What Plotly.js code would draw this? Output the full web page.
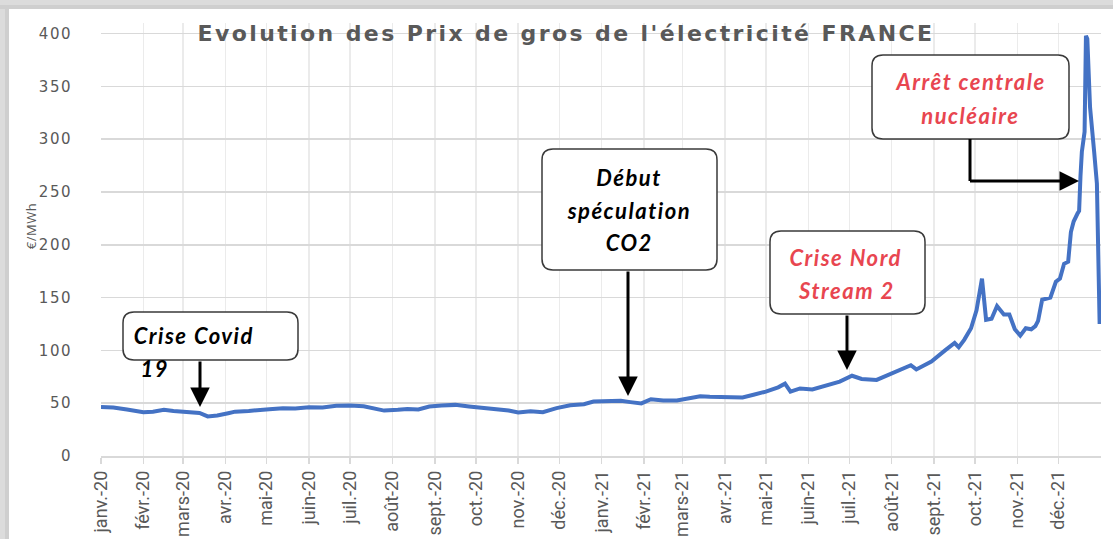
<!DOCTYPE html>
<html>
<head>
<meta charset="utf-8">
<script src="https://cdn.plot.ly/plotly-3.0.1.min.js"></script>
<style>
  html, body { margin: 0; padding: 0; background: #ffffff; }
  #chart { width: 1113px; height: 539px; }
  #chart .gtitle { letter-spacing: 2.4px; }
  #chart .annotation-text { letter-spacing: 1.5px; }
  #chart .annotation[data-index="0"] .annotation-text { letter-spacing: 0.5px; }
  #chart .ytick text { letter-spacing: 1.5px; }
</style>
</head>
<body>
<div id="chart"></div>
<script>
// ---------- DATA ----------
const chartTitle = "Evolution des Prix de gros de l'électricité FRANCE";
const yAxisLabel = "€/MWh";

const dates = [
  "2020-01-01","2020-01-10","2020-01-20","2020-02-01","2020-02-08","2020-02-16","2020-02-23",
  "2020-03-02","2020-03-10","2020-03-13","2020-03-19","2020-03-26","2020-04-03","2020-04-08",
  "2020-04-18","2020-04-25","2020-05-03","2020-05-13","2020-05-22","2020-06-01","2020-06-11",
  "2020-06-21","2020-07-01","2020-07-11","2020-07-19","2020-07-26","2020-08-05","2020-08-12",
  "2020-08-20","2020-08-28","2020-09-06","2020-09-16","2020-09-26","2020-10-05","2020-10-15",
  "2020-10-25","2020-11-01","2020-11-10","2020-11-19","2020-11-29","2020-12-09","2020-12-19",
  "2020-12-26",
  "2021-01-06","2021-01-15","2021-01-22","2021-01-30","2021-02-06","2021-02-15","2021-02-25",
  "2021-03-07","2021-03-14","2021-03-21","2021-04-01","2021-04-14","2021-04-22","2021-05-01",
  "2021-05-10","2021-05-15","2021-05-19","2021-05-26","2021-06-04","2021-06-14","2021-06-24",
  "2021-07-03","2021-07-10","2021-07-21","2021-08-01","2021-08-10","2021-08-15","2021-08-19",
  "2021-08-30","2021-09-09","2021-09-16","2021-09-19","2021-09-23","2021-09-28","2021-10-02",
  "2021-10-06","2021-10-09","2021-10-13","2021-10-17","2021-10-22","2021-10-26","2021-10-30",
  "2021-11-03","2021-11-07","2021-11-11","2021-11-14","2021-11-16","2021-11-19","2021-11-25",
  "2021-11-29","2021-12-02","2021-12-05","2021-12-08","2021-12-10","2021-12-12","2021-12-15",
  "2021-12-16","2021-12-17","2021-12-18","2021-12-20","2021-12-21","2021-12-22","2021-12-24",
  "2021-12-27","2021-12-29","2021-12-31"
];
const prices = [
  46.5,46,44,41.5,42,43.7,42.7,
  41.8,41.8,40.8,37.5,38.3,40.5,42,
  42.7,43.7,44.3,45.3,45,46.2,45.9,
  47.5,47.8,47,44.6,43,43.7,44.5,
  44,46.8,47.8,48.4,46.8,45.9,44.3,
  43,41.2,42.4,41.5,45.3,48,49,
  51.6,
  52,52.2,51,49.8,53.8,52.5,52.5,
  54.7,56.5,56,55.7,55.5,58,61,
  65,68.5,61,64,63,67,70.5,
  76,73,72,78.5,83,86,82,
  89.5,100,107,103,110,121,138,
  168,129,130,142,134,134,120,
  114,121,120,123,128,148,150,
  165,168,182,184,212,222,230,
  232,265,288,307,398,395,330,
  288,258,125
];

const monthTicks = [
  "2020-01-01","2020-02-01","2020-03-01","2020-04-01","2020-05-01","2020-06-01",
  "2020-07-01","2020-08-01","2020-09-01","2020-10-01","2020-11-01","2020-12-01",
  "2021-01-01","2021-02-01","2021-03-01","2021-04-01","2021-05-01","2021-06-01",
  "2021-07-01","2021-08-01","2021-09-01","2021-10-01","2021-11-01","2021-12-01"
];
const monthLabels = [
  "janv.-20","févr.-20","mars-20","avr.-20","mai-20","juin-20",
  "juil.-20","août-20","sept.-20","oct.-20","nov.-20","déc.-20",
  "janv.-21","févr.-21","mars-21","avr.-21","mai-21","juin-21",
  "juil.-21","août-21","sept.-21","oct.-21","nov.-21","déc.-21"
];
const yTicks = [0, 50, 100, 150, 200, 250, 300, 350, 400];

const calloutCovid = ["Crise Covid", "19"];
const calloutCO2 = ["Début", "spéculation", "CO2"];
const calloutNord = ["Crise Nord", "Stream 2"];
const calloutNuc = ["Arrêt centrale", "nucléaire"];

// ---------- LAYOUT HELPERS (page pixel -> paper) ----------
const W = 1113, H = 539;
const PL = 101, PR = 1101, PT = 23, PB = 456;
const px = x => (x - PL) / (PR - PL);
const py = y => (PB - y) / (PB - PT);

function roundRect(x0, y0, x1, y1, r) {
  const P = (x, y) => px(x) + "," + py(y);
  return "M" + P(x0 + r, y0) + " L" + P(x1 - r, y0) + " Q" + P(x1, y0) + " " + P(x1, y0 + r) +
    " L" + P(x1, y1 - r) + " Q" + P(x1, y1) + " " + P(x1 - r, y1) +
    " L" + P(x0 + r, y1) + " Q" + P(x0, y1) + " " + P(x0, y1 - r) +
    " L" + P(x0, y0 + r) + " Q" + P(x0, y0) + " " + P(x0 + r, y0) + " Z";
}
function box(x0, y0, x1, y1) {
  return { type: "path", xref: "paper", yref: "paper", path: roundRect(x0, y0, x1, y1, 11),
    fillcolor: "#ffffff", line: { color: "#3a3a3a", width: 1.5 } };
}
function rectPx(x0, y0, x1, y1, color) {
  return { type: "rect", xref: "paper", yref: "paper", x0: px(x0), x1: px(x1), y0: py(y0), y1: py(y1),
    fillcolor: color, line: { width: 0 }, layer: "above" };
}
const calloutFont = (color) => ({ family: "Lato, 'Open Sans', sans-serif", size: 22, color: color });
function label(text, x, y, color, anchor) {
  return { xref: "paper", yref: "paper", x: px(x), y: py(y), text: "<b><i>" + text + "</i></b>",
    showarrow: false, xanchor: anchor || "center", yanchor: "middle", font: calloutFont(color) };
}
function arrow(tipX, tipY, tailX, tailY) {
  return { xref: "paper", yref: "paper", x: px(tipX), y: py(tipY), ax: tailX - tipX, ay: tailY - tipY,
    axref: "pixel", ayref: "pixel", text: "", showarrow: true, arrowhead: 2, arrowsize: 1.3,
    arrowwidth: 3, arrowcolor: "#000000", standoff: 0, startstandoff: 0 };
}

const RED = "#E84650";
const BLACK = "#000000";

const shapes = [
  // frame shadow
  rectPx(0, 0, W, 9, "#dcdcdc"),
  rectPx(0, 0, 9, H, "#dcdcdc"),
  rectPx(0, 5, W, 9, "#cfcfcf"),
  rectPx(5, 5, 9, H, "#cfcfcf"),
  // callout boxes
  box(123, 312, 298, 360),
  box(542, 149, 717, 270),
  box(770, 231, 925, 314),
  box(872, 55, 1069, 139),
  // elbow line of nuclear callout
  { type: "line", xref: "paper", yref: "paper", x0: px(970), x1: px(970), y0: py(139), y1: py(181),
    line: { color: "#000000", width: 3 } }
];

const annotations = [
  { xref: "paper", yref: "paper", x: px(31), y: py(226), text: yAxisLabel, textangle: -90,
    xanchor: "center", yanchor: "middle",
    showarrow: false, font: { family: "Open Sans, sans-serif", size: 13, color: "#595959" } },
  label(calloutCovid[0], 140, 335, BLACK, "left"),
  label(calloutCovid[1], 140, 368, BLACK, "left"),
  label(calloutCO2[0], 629, 177, BLACK),
  label(calloutCO2[1], 629, 210, BLACK),
  label(calloutCO2[2], 629, 243, BLACK),
  label(calloutNord[0], 846, 257, RED),
  label(calloutNord[1], 846, 290, RED),
  label(calloutNuc[0], 970, 82, RED),
  label(calloutNuc[1], 970, 115, RED),
  arrow(200, 407, 200, 360),
  arrow(628, 396, 628, 270),
  arrow(847, 370, 847, 314),
  arrow(1079, 181, 968.5, 181)
];

const trace = {
  x: dates, y: prices, type: "scatter", mode: "lines",
  line: { color: "#4472C4", width: 4 }, hoverinfo: "x+y"
};

const layout = {
  width: W, height: H,
  margin: { l: PL, r: W - PR, t: PT, b: H - PB },
  paper_bgcolor: "#ffffff", plot_bgcolor: "#ffffff",
  showlegend: false,
  title: {
    text: chartTitle, xref: "container", yref: "container",
    x: 566 / W, xanchor: "center", y: 1 - 33 / H, yanchor: "middle",
    font: { family: "'DejaVu Sans', sans-serif", size: 22, color: "#595959", weight: 700 }
  },
  xaxis: {
    type: "date", range: ["2020-01-01", "2022-01-01"],
    tickmode: "array", tickvals: monthTicks, ticktext: monthLabels, tickangle: -90,
    tickfont: { family: "Roboto, sans-serif", size: 18, color: "#595959" },
    showgrid: true, gridcolor: "#ebebeb", gridwidth: 1.5,
    ticks: "outside", ticklen: 6, tickcolor: "#d9d9d9", tickwidth: 1.5,
    showline: true, linecolor: "#d9d9d9", linewidth: 1.5, zeroline: false
  },
  yaxis: {
    range: [0, 410], tickmode: "array", tickvals: yTicks,
    tickfont: { family: "'DejaVu Sans', sans-serif", size: 15, color: "#595959" },
    showgrid: true, gridcolor: "#d9d9d9", gridwidth: 1.5,
    zeroline: false, showline: false, ticks: "", ticklabelstandoff: 28
  },
  shapes: shapes,
  annotations: annotations
};

Plotly.newPlot("chart", [trace], layout, { displayModeBar: false, staticPlot: true });
</script>
</body>
</html>
